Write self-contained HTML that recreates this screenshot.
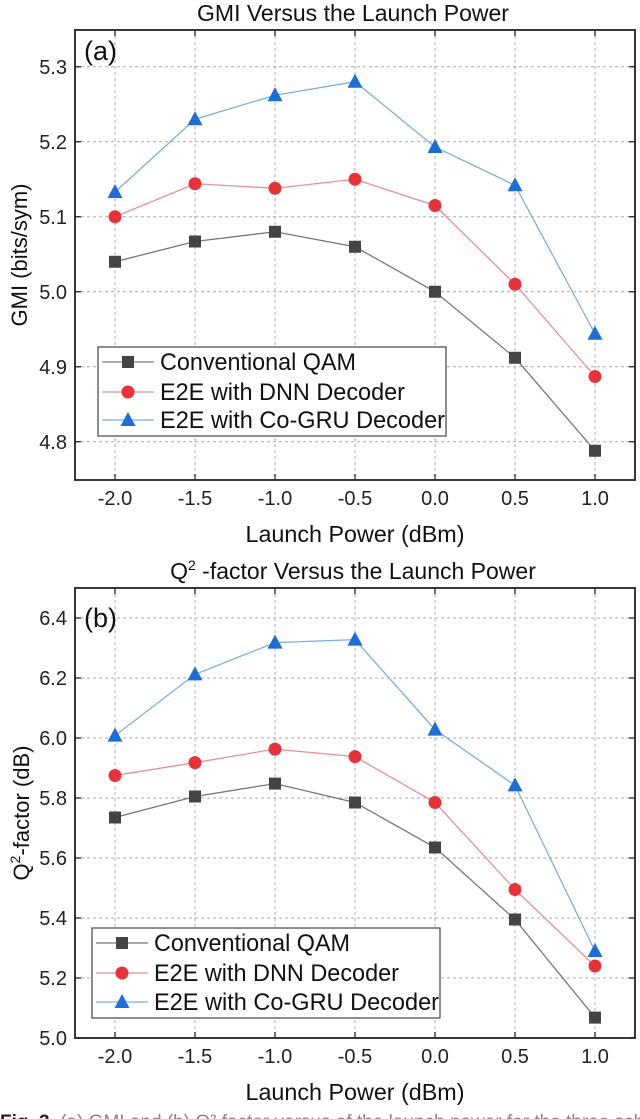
<!DOCTYPE html>
<html><head><meta charset="utf-8"><style>
html,body{margin:0;padding:0;background:#fff;width:640px;height:1119px;overflow:hidden}
svg{display:block;font-family:"Liberation Sans",Arial,sans-serif}
</style></head><body>
<svg id="fig" width="640" height="1119" viewBox="0 0 640 1119" xmlns="http://www.w3.org/2000/svg"></svg>
<script>
const xCategories=[-2.0,-1.5,-1.0,-0.5,0.0,0.5,1.0];
const xTickLabels=["-2.0","-1.5","-1.0","-0.5","0.0","0.5","1.0"];
const gmiConv=[5.04,5.067,5.08,5.06,5.0,4.912,4.788];
const gmiDnn=[5.1,5.144,5.138,5.15,5.115,5.01,4.887];
const gmiGru=[5.133,5.23,5.262,5.28,5.193,5.142,4.944];
const gmiTicks=[4.8,4.9,5.0,5.1,5.2,5.3];
const gmiTickLabels=["4.8","4.9","5.0","5.1","5.2","5.3"];
const qConv=[5.735,5.805,5.848,5.785,5.635,5.395,5.068];
const qDnn=[5.875,5.918,5.963,5.938,5.785,5.495,5.24];
const qGru=[6.008,6.212,6.318,6.328,6.028,5.842,5.29];
const qTicks=[5.0,5.2,5.4,5.6,5.8,6.0,6.2,6.4];
const qTickLabels=["5.0","5.2","5.4","5.6","5.8","6.0","6.2","6.4"];
const seriesNames=["Conventional QAM","E2E with DNN Decoder","E2E with Co-GRU Decoder"];

const NS="http://www.w3.org/2000/svg";
const svg=document.getElementById('fig');
function mk(tag,attrs,parent){const e=document.createElementNS(NS,tag);for(const k in attrs)e.setAttribute(k,attrs[k]);(parent||svg).appendChild(e);return e;}
function txt(s,attrs,parent){const e=mk('text',attrs,parent);e.textContent=s;return e;}
const colors=["#444444","#e8323a","#1c6ed4"];
const lineColors=["#777777","#e89090","#7aaee0"];

function marker(kind,x,y,c,g){
  let e;
  if(kind===0){e=mk('rect',{x:x-6,y:y-6,width:12,height:12,fill:c},g);}
  else if(kind===1){e=mk('circle',{cx:x,cy:y,r:6.5,fill:c},g);}
  else {e=mk('polygon',{points:`${x},${y-8} ${x+7.5},${y+6} ${x-7.5},${y+6}`,fill:c},g);}
  return e;
}

function panel(o){
  const g=mk('g',{});
  
  
  const L=75,R=635,T=o.top,B=o.bottom;
  const xs=v=>L+(v-(-2.25))/(3.5)*(R-L);
  const ys=v=>B-(v-o.ymin)/(o.ymax-o.ymin)*(B-T);
  const t=txt(o.title,{x:353,y:T-9,'font-size':23,'text-anchor':'middle',fill:'#111'},g);
  
  if(o.sup){t.textContent='';const a=mk('tspan',{},t);a.textContent='Q';const b=mk('tspan',{'font-size':14,dy:-9},t);b.textContent='2';const c=mk('tspan',{dy:9},t);c.textContent=' -factor Versus the Launch Power';}
  xCategories.forEach(v=>{const l=mk('line',{x1:xs(v),x2:xs(v),y1:T,y2:B,stroke:'#aaa','stroke-dasharray':'3,3','stroke-width':1},g);});
  o.ticks.forEach(v=>{const l=mk('line',{x1:L,x2:R,y1:ys(v),y2:ys(v),stroke:'#aaa','stroke-dasharray':'3,3','stroke-width':1},g);});
  const f=mk('rect',{x:L,y:T,width:R-L,height:B-T,fill:'none',stroke:'#222','stroke-width':1.8},g);
  
  xCategories.forEach((v,i)=>{
    mk('line',{x1:xs(v),x2:xs(v),y1:B,y2:B-6,stroke:'#222','stroke-width':1.3},g);
    mk('line',{x1:xs(v),x2:xs(v),y1:T,y2:T+6,stroke:'#222','stroke-width':1.3},g);
    const e=txt(xTickLabels[i],{x:xs(v),y:B+25,'font-size':20,'text-anchor':'middle',fill:'#222'},g);
    
  });
  o.ticks.forEach((v,i)=>{
    mk('line',{x1:L,x2:L+6,y1:ys(v),y2:ys(v),stroke:'#222','stroke-width':1.3},g);
    mk('line',{x1:R,x2:R-6,y1:ys(v),y2:ys(v),stroke:'#222','stroke-width':1.3},g);
    const e=txt(o.tickLabels[i],{x:67,y:ys(v)+7,'font-size':20,'text-anchor':'end',fill:'#222'},g);
    
  });
  const xl=txt('Launch Power (dBm)',{x:355,y:B+62,'font-size':23,'text-anchor':'middle',fill:'#111',textLength:219,lengthAdjust:'spacingAndGlyphs'},g);
  
  const yl=txt('',{x:0,y:0,'font-size':22,'text-anchor':'middle',fill:'#111',transform:`translate(${o.ytx},${o.yty}) rotate(-90)`},g);
  
  if(o.sup){const a=mk('tspan',{},yl);a.textContent='Q';const b=mk('tspan',{'font-size':14,dy:-9},yl);b.textContent='2';const c=mk('tspan',{dy:9},yl);c.textContent='-factor (dB)';}
  else yl.textContent=o.ylabel;
  const pl=txt(o.panel,{x:L+9,y:o.ply,'font-size':27,fill:'#111'},g);
  
  o.series.forEach((s,k)=>{
    const sg=mk('g',{},g);
    
    
    mk('polyline',{points:s.map((v,i)=>xs(xCategories[i])+','+ys(v)).join(' '),fill:'none',stroke:lineColors[k],'stroke-width':1.3},sg);
    s.forEach((v,i)=>{const m=marker(k,xs(xCategories[i]),ys(v),colors[k],sg);});
  });
  const lg=mk('g',{},g);
  
  mk('rect',{x:o.leg[0],y:o.leg[1],width:o.leg[2],height:o.leg[3],fill:'#fff',stroke:'#444','stroke-width':1.2},lg);
  o.rows.forEach((ry,k)=>{
    const eg=mk('g',{},lg);
    
    mk('line',{x1:o.leg[0]+4,x2:o.leg[0]+56,y1:ry,y2:ry,stroke:lineColors[k],'stroke-width':1.3},eg);
    marker(k,o.leg[0]+30,ry,colors[k],eg);
    txt(seriesNames[k],{x:o.leg[0]+62,y:ry+8,'font-size':24,fill:'#111',textLength:o.tl[k],lengthAdjust:'spacingAndGlyphs'},eg);
  });
}
panel({name:'gmi-chart',title:'GMI Versus the Launch Power',top:30,bottom:480,ymin:4.749,ymax:5.349,ticks:gmiTicks,tickLabels:gmiTickLabels,
  series:[gmiConv,gmiDnn,gmiGru],ylabel:'GMI (bits/sym)',ytx:27,yty:255,panel:'(a)',ply:60,leg:[98,347,348,89],rows:[362,392,420],tl:[196,245,285]});
panel({name:'q-factor-chart',title:'',sup:true,top:588,bottom:1038,ymin:5.0,ymax:6.5,ticks:qTicks,tickLabels:qTickLabels,
  series:[qConv,qDnn,qGru],ylabel:'',ytx:29,yty:813,panel:'(b)',ply:627,leg:[92,928,348,90],rows:[943,973,1002],tl:[196,245,285]});
const cap=txt('',{x:0,y:1128,'font-size':19,fill:'#222'});

const c1=mk('tspan',{'font-weight':'bold'},cap);c1.textContent='Fig. 3.';
const c2=mk('tspan',{fill:'#888'},cap);c2.textContent='  (a) GMI and (b) Q² factor versus of the launch power for the three schemes';
</script>
</body></html>
